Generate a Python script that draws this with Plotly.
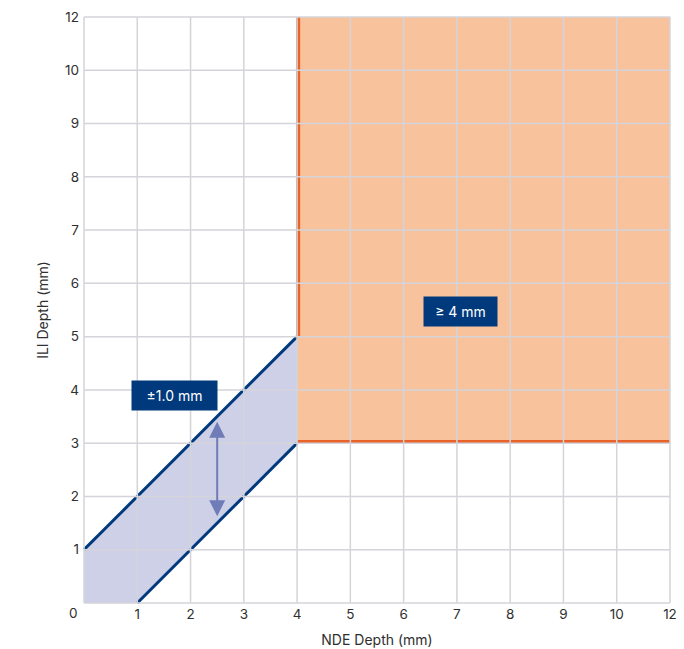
import plotly.graph_objects as go

# Axis ticks (the last position is labelled "12")
tick_positions = [1, 2, 3, 4, 5, 6, 7, 8, 9, 10, 11]
tick_labels = ["1", "2", "3", "4", "5", "6", "7", "8", "9", "10", "12"]
grid_positions = [0, 1, 2, 3, 4, 5, 6, 7, 8, 9, 10, 11]

# Tolerance band ±1.0 mm around ILI = NDE, for NDE depth 0..4 mm
band_x = [0, 0, 4, 4, 1, 0]
band_y = [0, 1, 5, 3, 0, 0]
upper_x = [0, 4]
upper_y = [1, 5]
lower_x = [1, 4]
lower_y = [0, 3]

# Region of depths >= 4 mm
zone_x = [4, 4, 11, 11, 4]
zone_y = [3, 11, 11, 3, 3]
zone_edge_x = [4.02, 4.02, None, 4, 11]
zone_edge_y = [5, 11, None, 3.02, 3.02]

# Double arrow showing band width
arrow_x = 2.5
arrow_y = [1.6, 3.4]

labels = [
    {"text": "±1.0 mm", "x": 1.69, "y": 3.9, "w": 73},
    {"text": "≥ 4 mm", "x": 7.07, "y": 5.48, "w": 61},
]

GRID = "#D4D4DA"
NAVY = "#003A7D"
FONT = "Inter"
TEXT = "#2F2F2F"

fig = go.Figure()

fig.add_trace(go.Scatter(x=zone_x, y=zone_y, fill="toself", fillcolor="#F8C29D",
                         line=dict(width=0), mode="lines", hoverinfo="skip"))
fig.add_trace(go.Scatter(x=zone_edge_x, y=zone_edge_y, mode="lines",
                         line=dict(color="#E8622A", width=4), hoverinfo="skip"))
fig.add_trace(go.Scatter(x=band_x, y=band_y, fill="toself", fillcolor="#CDD0E6",
                         line=dict(width=0), mode="lines", hoverinfo="skip"))
fig.add_trace(go.Scatter(x=upper_x, y=upper_y, mode="lines",
                         line=dict(color=NAVY, width=3), hoverinfo="skip"))
fig.add_trace(go.Scatter(x=lower_x, y=lower_y, mode="lines",
                         line=dict(color=NAVY, width=3), hoverinfo="skip"))

# Grid drawn on top of the filled regions
for g in grid_positions:
    fig.add_shape(type="line", x0=g, x1=g, y0=0, y1=11, xref="x", yref="y",
                  line=dict(color=GRID, width=1.5), layer="above")
    fig.add_shape(type="line", x0=0, x1=11, y0=g, y1=g, xref="x", yref="y",
                  line=dict(color=GRID, width=1.5), layer="above")

fig.add_annotation(x=arrow_x, y=arrow_y[1], ax=arrow_x, ay=arrow_y[0],
                   xref="x", yref="y", axref="x", ayref="y", text="",
                   showarrow=True, arrowhead=2, arrowside="end+start",
                   arrowsize=1.6, arrowwidth=2, arrowcolor="#6F7CB8")

for lab in labels:
    fig.add_annotation(x=lab["x"], y=lab["y"], xref="x", yref="y", text=lab["text"],
                       showarrow=False, bgcolor=NAVY, borderpad=6,
                       width=lab["w"], height=17,
                       font=dict(family=FONT, size=14, color="white"))

# Shared origin label
fig.add_annotation(x=0, y=0, xref="paper", yref="paper", text="0", showarrow=False,
                   xanchor="center", yanchor="middle", xshift=-10, yshift=-9,
                   font=dict(family=FONT, size=13.5, color=TEXT))

pad = 0.019
axis_common = dict(range=[-pad, 11 + pad], tickvals=tick_positions, ticktext=tick_labels,
                   showgrid=False, zeroline=False, showline=False, automargin=False,
                   tickfont=dict(family=FONT, size=13.5, color=TEXT),
                   title_font=dict(family=FONT, size=14, color=TEXT))

fig.update_xaxes(**axis_common, title_text="NDE Depth (mm)", title_standoff=14)
fig.update_yaxes(**axis_common, title_text="ILI Depth (mm)", title_standoff=13,
                 ticklabelstandoff=3)

fig.update_layout(
    width=684, height=649,
    margin=dict(l=83, r=13, t=16, b=45),
    plot_bgcolor="white", paper_bgcolor="white",
    showlegend=False,
    font=dict(family=FONT),
)

fig.write_html("out.html")
